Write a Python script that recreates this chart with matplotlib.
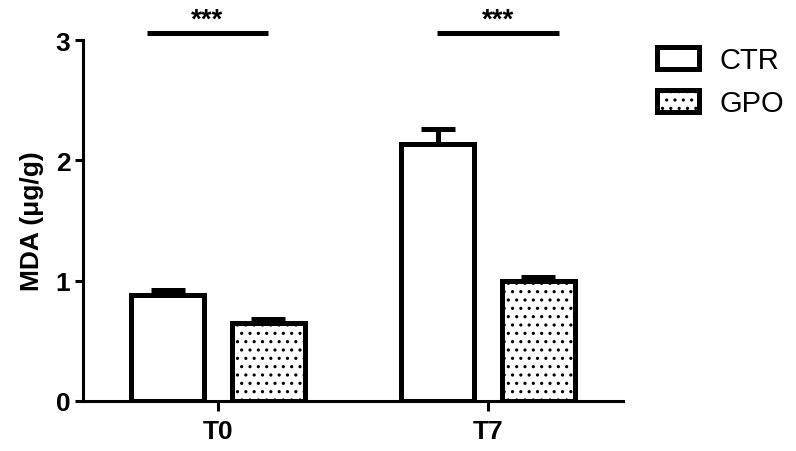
import numpy as np
import matplotlib
matplotlib.use("Agg")
import matplotlib.pyplot as plt

plt.rcParams['font.family'] = ['Liberation Sans', 'DejaVu Sans']
plt.rcParams['hatch.linewidth'] = 1.1

# data
groups = ['T0', 'T7']
series = ['CTR', 'GPO']
ctr_mean = [0.88, 2.14]
ctr_err = [0.04, 0.125]
gpo_mean = [0.65, 0.995]
gpo_err = [0.033, 0.035]
yticks = [0, 1, 2, 3]
sig_labels = ['***', '***']

x = np.arange(len(groups))
off = 0.186
w = 0.27

fig = plt.figure(figsize=(7.96, 4.52), dpi=100)
ax = fig.add_axes([0.104, 0.111, 0.679, 0.798])

lw = 3.6
ax.bar(x - off, ctr_mean, w, color='white', edgecolor='black', linewidth=lw,
       label=series[0], zorder=2)
ax.bar(x + off, gpo_mean, w, color='white', edgecolor='black', linewidth=lw,
       hatch='..', label=series[1], zorder=2)
ax.errorbar(x - off, ctr_mean, yerr=[np.zeros(2), ctr_err], fmt='none',
            ecolor='black', elinewidth=lw, capsize=12, capthick=lw, zorder=1)
ax.errorbar(x + off, gpo_mean, yerr=[np.zeros(2), gpo_err], fmt='none',
            ecolor='black', elinewidth=lw, capsize=12, capthick=lw, zorder=1)

# significance bars (offsets relative to each group)
sig_x = [(-0.264, 0.186), (-0.19, 0.264)]
for xi, (a, b), s in zip(x, sig_x, sig_labels):
    ax.plot([xi + a, xi + b], [3.06, 3.06], color='black', lw=3.6,
            clip_on=False, solid_capstyle='butt')
    ax.text(xi + (a + b) / 2, 3.065, s, ha='center', va='bottom', fontsize=20,
            fontweight='bold')

ax.set_xlim(-0.5, 1.5)
ax.set_ylim(0, 3)
ax.set_yticks(yticks)
ax.set_xticks(x)
ax.set_xticklabels(groups)
for side in ['top', 'right']:
    ax.spines[side].set_visible(False)
for side in ['left', 'bottom']:
    ax.spines[side].set_linewidth(2.2)
ax.tick_params(axis='y', length=6, width=2.2, pad=3, labelsize=19)
ax.tick_params(axis='x', length=7, width=2.2, pad=6, labelsize=19)
for t in ax.get_xticklabels() + ax.get_yticklabels():
    t.set_fontweight('bold')
ax.set_ylabel('MDA (\u03bcg/g)', fontsize=19, fontweight='bold', labelpad=8)

ax.legend(loc='upper left', bbox_to_anchor=(0.825, 0.895),
          bbox_transform=fig.transFigure, frameon=False, fontsize=21,
          handlelength=1.45, handleheight=0.8, handletextpad=0.7,
          labelspacing=0.5, borderpad=0, borderaxespad=0)

fig.savefig('out.png', dpi=100)
